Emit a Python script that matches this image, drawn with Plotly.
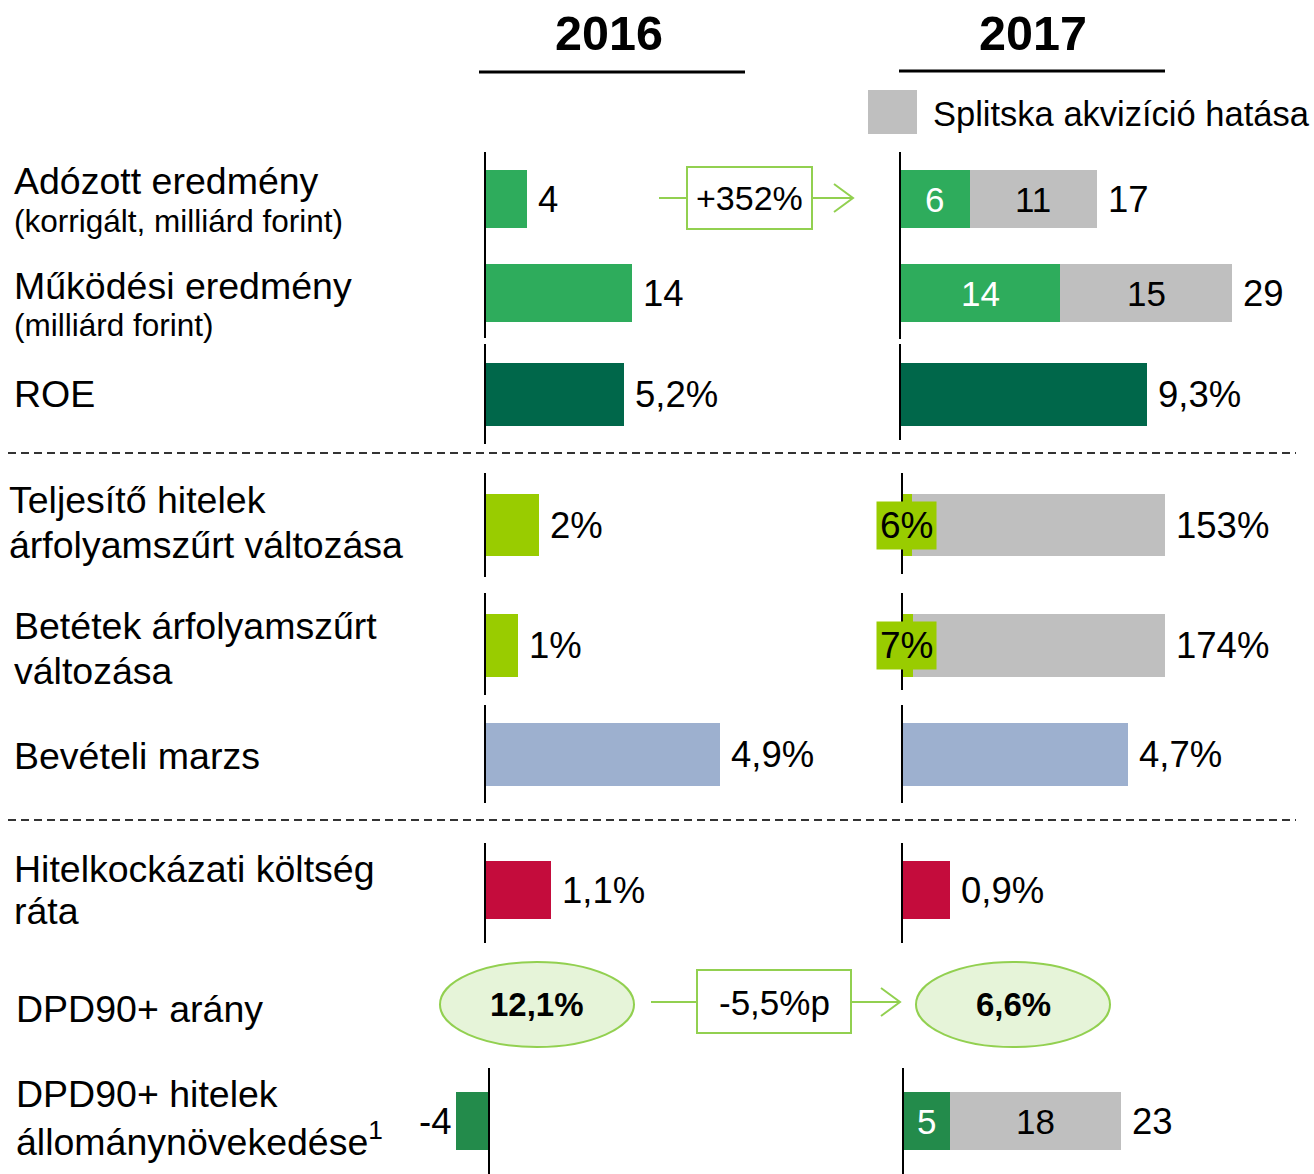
import plotly.graph_objects as go

W, H = 1314, 1174
FONT = "Liberation Sans, Arial, sans-serif"

# ---------------- data ----------------
ROW_LABELS = [
    ["Adózott eredmény", "(korrigált, milliárd forint)"],
    ["Működési eredmény", "(milliárd forint)"],
    ["ROE"],
    ["Teljesítő hitelek", "árfolyamszűrt változása"],
    ["Betétek árfolyamszűrt", "változása"],
    ["Bevételi marzs"],
    ["Hitelkockázati költség", "ráta"],
    ["DPD90+ arány"],
    ["DPD90+ hitelek", "állománynövekedése<sup>1</sup>"],
]
UNITS = ["", "", "%", "%", "%", "%", "%", "%", ""]
VALUES_2016 = [4, 14, 5.2, 2, 1, 4.9, 1.1, 12.1, -4]
ORGANIC_2017 = [6, 14, 9.3, 6, 7, 4.7, 0.9, 6.6, 5]
TOTAL_2017 = [17, 29, None, 153, 174, None, None, None, 23]
PROFIT_GROWTH = "+352%"
YEARS = ["2016", "2017"]
LEGEND_TEXT = "Splitska akvizíció hatása"
RATIO_ROW = 7

# ---------------- styling / layout ----------------
ROW_COLORS = ["#2EAC5C", "#2EAC5C", "#00674A", "#99CC00", "#99CC00",
              "#9DB0CF", "#C40C3C", None, "#238B4B"]
GREY = "#BFBFBF"
LIGHT_GREEN = "#92D050"
ELLIPSE_FILL = "#E6F4D9"

ROW_Y = [199, 293, 394, 525, 645, 754, 890, 1005, 1121]
BAR_H = [58, 58, 63, 62, 63, 63, 58, None, 58]
BASE_2016 = [485, 485, 485, 485, 485, 485, 485, None, 489]
BASE_2017 = [900, 900, 900, 902, 902, 902, 902, None, 903]
SCALE_2016 = [10.5, 10.5, 26.7, 27, 33, 48, 60, None, 8.25]
SCALE_2017 = [11.59, 11.45, 26.6, 1.72, 1.51, 48.1, 53.3, None, 9.48]
SPAN_2016 = [(152, 245), (245, 338), (344, 444), (473, 577), (593, 695),
             (705, 803), (843, 943), None, (1068, 1174)]
SPAN_2017 = [(152, 245), (245, 339), (344, 440), (473, 574), (593, 690),
             (705, 803), (843, 943), None, (1068, 1174)]
PANEL_2016 = (400, 880)
PANEL_2017 = (880, 1314)

LABEL_X = [12, 12, 12, 7, 12, 12, 12, 14, 14]
LABEL_LINE_Y = [[181, 221], [286, 325], [394], [500, 545], [626, 671],
                [756], [869, 911], [1009], [1094, 1139]]
LABEL_SIZES = [[37.5, 31.5], [37.5, 31.5], [37.5], [37.5, 37.5],
               [37.5, 37.5], [37.5], [37.5, 37.5], [37.5], [37.5, 37.5]]

VAL_SIZE = 36.5
INNER_SIZE = 35


def fx(p):
    return p / W


def fy(p):
    return 1 - p / H


def fmt(v, unit):
    return f"{v:g}".replace(".", ",") + unit


fig = go.Figure()
layout_axes = {}
annotations = []
shapes = []

bar_rows = [i for i in range(len(ROW_LABELS)) if i != RATIO_ROW]
n = len(bar_rows)


def axis_name(idx):
    return "x" if idx == 1 else f"x{idx}"


def layout_key(idx):
    return "xaxis" if idx == 1 else f"xaxis{idx}"


for panel, (bases, scales, spans, dom) in enumerate([
        (BASE_2016, SCALE_2016, SPAN_2016, PANEL_2016),
        (BASE_2017, SCALE_2017, SPAN_2017, PANEL_2017)]):
    first = panel * n + 1
    for k, i in enumerate(bar_rows):
        idx = first + k
        b, s = bases[i], scales[i]
        ax = dict(range=[(dom[0] - b) / s, (dom[1] - b) / s],
                  visible=False, fixedrange=True, anchor="y")
        if k == 0:
            ax["domain"] = [fx(dom[0]), fx(dom[1])]
        else:
            ax["overlaying"] = axis_name(first)
        layout_axes[layout_key(idx)] = ax
        xa = axis_name(idx)
        y = ROW_Y[i]
        # axis line of this row
        y0, y1 = spans[i]
        shapes.append(dict(type="line", xref=xa, yref="y", x0=0, x1=0,
                           y0=y0, y1=y1, line=dict(color="black", width=2)))
        color = ROW_COLORS[i]
        if panel == 0:
            v = VALUES_2016[i]
            fig.add_trace(go.Bar(x=[v], y=[y], base=[0], orientation="h",
                                 width=[BAR_H[i]], marker_color=color,
                                 marker_line_width=0, xaxis=xa, yaxis="y",
                                 hoverinfo="skip", showlegend=False))
            annotations.append(dict(
                xref=xa, yref="y", x=v, y=y, text=fmt(v, UNITS[i]),
                showarrow=False, xanchor="left" if v >= 0 else "right",
                xshift=9 if v >= 0 else -3,
                font=dict(size=VAL_SIZE, color="black", family=FONT)))
        else:
            v = ORGANIC_2017[i]
            tot = TOTAL_2017[i]
            fig.add_trace(go.Bar(x=[v], y=[y], base=[0], orientation="h",
                                 width=[BAR_H[i]], marker_color=color,
                                 marker_line_width=0, xaxis=xa, yaxis="y",
                                 hoverinfo="skip", showlegend=False))
            if tot is None:
                annotations.append(dict(
                    xref=xa, yref="y", x=v, y=y, text=fmt(v, UNITS[i]),
                    showarrow=False, xanchor="left", xshift=9,
                    font=dict(size=VAL_SIZE, color="black", family=FONT)))
            else:
                fig.add_trace(go.Bar(x=[tot - v], y=[y], base=[v],
                                     orientation="h", width=[BAR_H[i]],
                                     marker_color=GREY, marker_line_width=0,
                                     xaxis=xa, yaxis="y", hoverinfo="skip",
                                     showlegend=False))
                annotations.append(dict(
                    xref=xa, yref="y", x=tot, y=y, text=fmt(tot, UNITS[i]),
                    showarrow=False, xanchor="left", xshift=9,
                    font=dict(size=VAL_SIZE, color="black", family=FONT)))
                if UNITS[i] == "%":
                    # organic change shown on a highlighted tag
                    annotations.append(dict(
                        xref=xa, yref="y", x=v / 2, y=y,
                        text=fmt(v, UNITS[i]), showarrow=False,
                        xanchor="center", bgcolor=color, borderpad=3,
                        xshift=-1,
                        font=dict(size=37, color="black", family=FONT)))
                else:
                    annotations.append(dict(
                        xref=xa, yref="y", x=v / 2, y=y, text=fmt(v, ""),
                        showarrow=False, xanchor="center",
                        font=dict(size=INNER_SIZE, color="white", family=FONT)))
                    annotations.append(dict(
                        xref=xa, yref="y", x=v + (tot - v) / 2, y=y,
                        text=fmt(tot - v, ""), showarrow=False,
                        xanchor="center",
                        font=dict(size=INNER_SIZE, color="black", family=FONT)))

# ---------------- row labels ----------------
for i, lines in enumerate(ROW_LABELS):
    for line, ly, sz in zip(lines, LABEL_LINE_Y[i], LABEL_SIZES[i]):
        annotations.append(dict(
            xref="paper", yref="paper", x=fx(LABEL_X[i]), y=fy(ly),
            text=line, showarrow=False, xanchor="left", yanchor="middle",
            font=dict(size=sz, color="black", family=FONT)))

# ---------------- headers & legend ----------------
for year, cx, (ux0, ux1, uy) in zip(YEARS, [609, 1033],
                                    [(479, 745, 72), (899, 1165, 71)]):
    annotations.append(dict(
        xref="paper", yref="paper", x=fx(cx), y=fy(33), text=f"<b>{year}</b>",
        showarrow=False, xanchor="center", yanchor="middle",
        font=dict(size=48.5, color="black", family=FONT)))
    shapes.append(dict(type="line", xref="paper", yref="paper",
                       x0=fx(ux0), x1=fx(ux1), y0=fy(uy), y1=fy(uy),
                       line=dict(color="black", width=3)))

shapes.append(dict(type="rect", xref="paper", yref="paper",
                   x0=fx(868), x1=fx(917), y0=fy(90), y1=fy(134),
                   fillcolor=GREY, line=dict(width=0)))
annotations.append(dict(
    xref="paper", yref="paper", x=fx(931), y=fy(114), text=LEGEND_TEXT,
    showarrow=False, xanchor="left", yanchor="middle",
    font=dict(size=34.5, color="black", family=FONT)))

# ---------------- section separators ----------------
for sy in (453, 820):
    shapes.append(dict(type="line", xref="paper", yref="paper",
                       x0=fx(8), x1=fx(1296), y0=fy(sy), y1=fy(sy),
                       line=dict(color="#333333", width=2, dash="8px,5px")))


# ---------------- change callouts ----------------
def callout(text, x_start, box, x_tip, cy, size):
    bx0, by0, bx1, by1 = box
    shapes.append(dict(type="line", xref="paper", yref="paper",
                       x0=fx(x_start), x1=fx(bx0), y0=fy(cy), y1=fy(cy),
                       line=dict(color=LIGHT_GREEN, width=2)))
    shapes.append(dict(type="line", xref="paper", yref="paper",
                       x0=fx(bx1), x1=fx(x_tip), y0=fy(cy), y1=fy(cy),
                       line=dict(color=LIGHT_GREEN, width=2)))
    shapes.append(dict(type="path", xref="paper", yref="paper",
                       path=(f"M {fx(x_tip - 19)},{fy(cy - 14)} "
                             f"L {fx(x_tip)},{fy(cy)} "
                             f"L {fx(x_tip - 19)},{fy(cy + 14)}"),
                       line=dict(color=LIGHT_GREEN, width=2)))
    shapes.append(dict(type="rect", xref="paper", yref="paper",
                       x0=fx(bx0), x1=fx(bx1), y0=fy(by0), y1=fy(by1),
                       fillcolor="white", line=dict(color=LIGHT_GREEN, width=2)))
    annotations.append(dict(
        xref="paper", yref="paper", x=fx((bx0 + bx1) / 2), y=fy(cy),
        text=text, showarrow=False, xanchor="center", yanchor="middle",
        font=dict(size=size, color="black", family=FONT)))


callout(PROFIT_GROWTH, 659, (687, 167, 812, 229), 853, 198, 34)

r0, r1 = VALUES_2016[RATIO_ROW], ORGANIC_2017[RATIO_ROW]
diff_text = f"{r1 - r0:.1f}".replace(".", ",") + "%p"
callout(diff_text, 651, (697, 970, 851, 1033), 900, 1002, 35)

for val, (ex0, ex1) in zip([r0, r1], [(440, 634), (916, 1110)]):
    shapes.append(dict(type="circle", xref="paper", yref="paper",
                       x0=fx(ex0), x1=fx(ex1), y0=fy(962), y1=fy(1047),
                       fillcolor=ELLIPSE_FILL,
                       line=dict(color=LIGHT_GREEN, width=2)))
    annotations.append(dict(
        xref="paper", yref="paper", x=fx((ex0 + ex1) / 2), y=fy(1004),
        text=f"<b>{fmt(val, '%')}</b>", showarrow=False,
        xanchor="center", yanchor="middle",
        font=dict(size=33, color="black", family=FONT)))

fig.update_layout(
    width=W, height=H,
    margin=dict(l=0, r=0, t=0, b=0),
    paper_bgcolor="white", plot_bgcolor="rgba(0,0,0,0)",
    barmode="overlay", bargap=0,
    showlegend=False,
    yaxis=dict(range=[H, 0], domain=[0, 1], visible=False, fixedrange=True),
    shapes=shapes, annotations=annotations,
    **layout_axes,
)

fig.write_html("out.html")
